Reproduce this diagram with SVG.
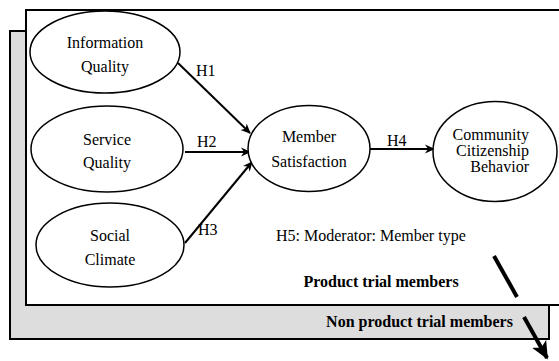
<svg xmlns="http://www.w3.org/2000/svg" width="559" height="361" viewBox="0 0 559 361">
<style>
text{font-family:'Liberation Serif','Times New Roman',Times,serif;font-size:16px;fill:#000}
.b{font-weight:bold}
.e{fill:#fff;stroke:#000;stroke-width:1.5}
.c{stroke:#000;stroke-width:2;fill:none}
</style>
<defs>
<marker id="ah" viewBox="0 0 10 10" refX="9" refY="5" markerWidth="10" markerHeight="10" markerUnits="userSpaceOnUse" orient="auto">
<path d="M0,0.5 L10,5 L0,9.5 L3,5 z" fill="#000"/>
</marker>
<marker id="ahb" viewBox="0 0 10 10" refX="9" refY="5" markerWidth="18" markerHeight="18" markerUnits="userSpaceOnUse" orient="auto">
<path d="M0,0.5 L10,5 L0,9.5 L2.5,5 z" fill="#000"/>
</marker>
</defs>
<g id="back-panel">
<rect x="10" y="31" width="539" height="308" fill="#dddddd" stroke="#000" stroke-width="2"/>
<text class="b" x="419.5" y="327" text-anchor="middle" font-family="Liberation Serif, serif">Non product trial members</text>
</g>
<g id="front-panel">
<rect x="26" y="10" width="540" height="295" fill="#fff" stroke="#000" stroke-width="2"/>
<text class="b" x="381" y="287" text-anchor="middle" font-family="Liberation Serif, serif">Product trial members</text>
<text x="276" y="241" font-family="Liberation Serif, serif">H5: Moderator: Member type</text>
</g>
<g id="connectors" font-family="Liberation Serif, serif">
<line class="c" x1="178" y1="63" x2="250" y2="133" marker-end="url(#ah)"/>
<line class="c" x1="185" y1="152" x2="250" y2="152" marker-end="url(#ah)"/>
<line class="c" x1="185" y1="243" x2="252" y2="162" marker-end="url(#ah)"/>
<line class="c" x1="370" y1="149" x2="434" y2="149" marker-end="url(#ah)"/>
<text x="196" y="76">H1</text>
<text x="197" y="147">H2</text>
<text x="198" y="235">H3</text>
<text x="387" y="146">H4</text>
<line x1="494" y1="256" x2="517" y2="297" stroke="#000" stroke-width="4"/>
<line x1="524" y1="317" x2="547" y2="358" stroke="#000" stroke-width="4" marker-end="url(#ahb)"/>
</g>
<g id="information-quality">
<ellipse class="e" cx="105" cy="52" rx="75" ry="41"/>
<text x="105" y="48" text-anchor="middle">Information</text>
<text x="105" y="72" text-anchor="middle">Quality</text>
</g>
<g id="service-quality">
<ellipse class="e" cx="107" cy="149" rx="76" ry="43"/>
<text x="107" y="145" text-anchor="middle">Service</text>
<text x="107" y="168" text-anchor="middle">Quality</text>
</g>
<g id="social-climate">
<ellipse class="e" cx="110" cy="245" rx="74" ry="42"/>
<text x="110" y="241" text-anchor="middle">Social</text>
<text x="110" y="265" text-anchor="middle">Climate</text>
</g>
<g id="member-satisfaction">
<ellipse class="e" cx="309" cy="148.5" rx="61" ry="43"/>
<text x="309" y="142" text-anchor="middle">Member</text>
<text x="309" y="167" text-anchor="middle">Satisfaction</text>
</g>
<g id="community-citizenship-behavior">
<ellipse class="e" cx="495" cy="151.5" rx="62" ry="50"/>
<text x="529" y="140" text-anchor="end">Community</text>
<text x="529" y="156" text-anchor="end">Citizenship</text>
<text x="529" y="172" text-anchor="end">Behavior</text>
</g>
</svg>
